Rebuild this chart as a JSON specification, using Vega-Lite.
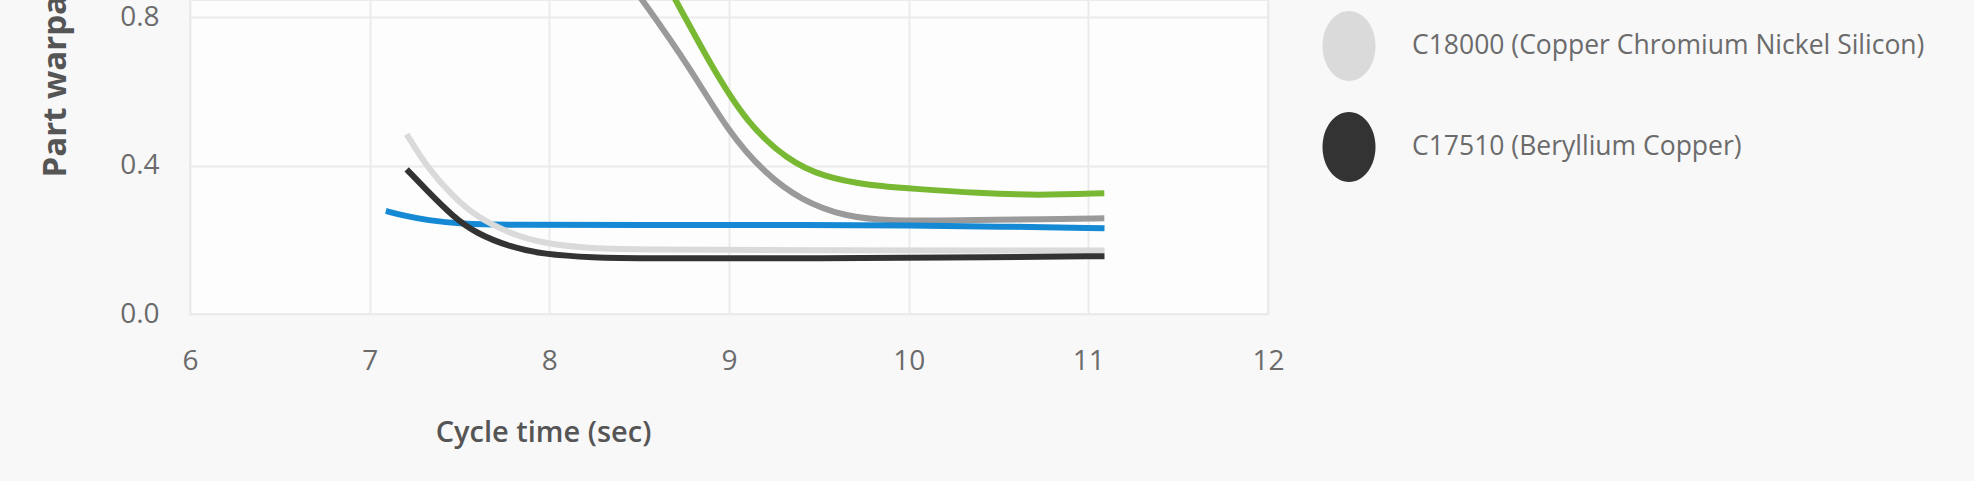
{
  "$schema": "https://vega.github.io/schema/vega-lite/v6.json",
  "width": 1078,
  "height": 314,
  "autosize": "none",
  "padding": {"left": 190, "top": 0, "right": 706, "bottom": 167},
  "background": "#f8f8f9",
  "config": {
    "view": {"fill": "#fdfdfd", "stroke": "#ebebeb", "strokeWidth": 2},
    "font": "Open Sans"
  },
  "data": {
    "values": [
      {"alloy": "H13 (Tool Steel)", "t": 8.5, "w": 1.02},
      {"alloy": "H13 (Tool Steel)", "t": 8.6, "w": 0.935},
      {"alloy": "H13 (Tool Steel)", "t": 8.704, "w": 0.847},
      {"alloy": "H13 (Tool Steel)", "t": 8.903, "w": 0.667},
      {"alloy": "H13 (Tool Steel)", "t": 9.101, "w": 0.514},
      {"alloy": "H13 (Tool Steel)", "t": 9.325, "w": 0.415},
      {"alloy": "H13 (Tool Steel)", "t": 9.524, "w": 0.37},
      {"alloy": "H13 (Tool Steel)", "t": 9.772, "w": 0.347},
      {"alloy": "H13 (Tool Steel)", "t": 10.021, "w": 0.338},
      {"alloy": "H13 (Tool Steel)", "t": 10.394, "w": 0.326},
      {"alloy": "H13 (Tool Steel)", "t": 10.716, "w": 0.32},
      {"alloy": "H13 (Tool Steel)", "t": 11.089, "w": 0.326},
      {"alloy": "P20 (Tool Steel)", "t": 8.3, "w": 0.99},
      {"alloy": "P20 (Tool Steel)", "t": 8.4, "w": 0.924},
      {"alloy": "P20 (Tool Steel)", "t": 8.518, "w": 0.847},
      {"alloy": "P20 (Tool Steel)", "t": 8.779, "w": 0.667},
      {"alloy": "P20 (Tool Steel)", "t": 9.002, "w": 0.487},
      {"alloy": "P20 (Tool Steel)", "t": 9.201, "w": 0.379},
      {"alloy": "P20 (Tool Steel)", "t": 9.4, "w": 0.307},
      {"alloy": "P20 (Tool Steel)", "t": 9.648, "w": 0.262},
      {"alloy": "P20 (Tool Steel)", "t": 9.896, "w": 0.251},
      {"alloy": "P20 (Tool Steel)", "t": 10.269, "w": 0.253},
      {"alloy": "P20 (Tool Steel)", "t": 10.766, "w": 0.256},
      {"alloy": "P20 (Tool Steel)", "t": 11.089, "w": 0.258},
      {"alloy": "Aluminum 7075", "t": 7.09, "w": 0.278},
      {"alloy": "Aluminum 7075", "t": 7.2, "w": 0.264},
      {"alloy": "Aluminum 7075", "t": 7.32, "w": 0.253},
      {"alloy": "Aluminum 7075", "t": 7.5, "w": 0.243},
      {"alloy": "Aluminum 7075", "t": 7.8, "w": 0.24},
      {"alloy": "Aluminum 7075", "t": 8.5, "w": 0.24},
      {"alloy": "Aluminum 7075", "t": 9.5, "w": 0.24},
      {"alloy": "Aluminum 7075", "t": 10.0, "w": 0.239},
      {"alloy": "Aluminum 7075", "t": 10.5, "w": 0.236},
      {"alloy": "Aluminum 7075", "t": 11.09, "w": 0.231},
      {"alloy": "C18000 (Copper Chromium Nickel Silicon)", "t": 7.206, "w": 0.485},
      {"alloy": "C18000 (Copper Chromium Nickel Silicon)", "t": 7.317, "w": 0.397},
      {"alloy": "C18000 (Copper Chromium Nickel Silicon)", "t": 7.465, "w": 0.316},
      {"alloy": "C18000 (Copper Chromium Nickel Silicon)", "t": 7.595, "w": 0.262},
      {"alloy": "C18000 (Copper Chromium Nickel Silicon)", "t": 7.781, "w": 0.217},
      {"alloy": "C18000 (Copper Chromium Nickel Silicon)", "t": 7.966, "w": 0.19},
      {"alloy": "C18000 (Copper Chromium Nickel Silicon)", "t": 8.244, "w": 0.176},
      {"alloy": "C18000 (Copper Chromium Nickel Silicon)", "t": 8.504, "w": 0.174},
      {"alloy": "C18000 (Copper Chromium Nickel Silicon)", "t": 9.5, "w": 0.172},
      {"alloy": "C18000 (Copper Chromium Nickel Silicon)", "t": 10.5, "w": 0.171},
      {"alloy": "C18000 (Copper Chromium Nickel Silicon)", "t": 11.09, "w": 0.171},
      {"alloy": "C17510  (Beryllium Copper)", "t": 7.206, "w": 0.39},
      {"alloy": "C17510  (Beryllium Copper)", "t": 7.317, "w": 0.334},
      {"alloy": "C17510  (Beryllium Copper)", "t": 7.465, "w": 0.262},
      {"alloy": "C17510  (Beryllium Copper)", "t": 7.595, "w": 0.217},
      {"alloy": "C17510  (Beryllium Copper)", "t": 7.781, "w": 0.181},
      {"alloy": "C17510  (Beryllium Copper)", "t": 7.966, "w": 0.161},
      {"alloy": "C17510  (Beryllium Copper)", "t": 8.244, "w": 0.152},
      {"alloy": "C17510  (Beryllium Copper)", "t": 8.504, "w": 0.15},
      {"alloy": "C17510  (Beryllium Copper)", "t": 9.5, "w": 0.15},
      {"alloy": "C17510  (Beryllium Copper)", "t": 10.5, "w": 0.153},
      {"alloy": "C17510  (Beryllium Copper)", "t": 11.09, "w": 0.156}
    ]
  },
  "mark": {"type": "line", "interpolate": "basis", "strokeWidth": 6, "clip": true},
  "encoding": {
    "x": {
      "field": "t",
      "type": "quantitative",
      "scale": {"domain": [6, 12], "nice": false, "zero": false},
      "axis": {
        "values": [6, 7, 8, 9, 10, 11, 12],
        "title": "Cycle time (sec)",
        "titleFontSize": 29,
        "titleFontWeight": 600,
        "titleColor": "#555555",
        "titleX": 353,
        "titleY": 118,
        "titleBaseline": "middle",
        "titleAnchor": null,
        "labelFontSize": 28,
        "labelColor": "#6b6b6b",
        "labelPadding": 33,
        "labelFlush": false,
        "domain": false,
        "ticks": false,
        "gridColor": "#ebebeb",
        "gridWidth": 2
      }
    },
    "y": {
      "field": "w",
      "type": "quantitative",
      "scale": {"domain": [0, 0.847], "nice": false},
      "axis": {
        "values": [0, 0.4, 0.8],
        "format": ".1f",
        "title": "Part warpage (mm)",
        "titleFontSize": 33,
        "titleFontWeight": "bold",
        "titleColor": "#555555",
        "titleAngle": 270,
        "titleAlign": "left",
        "titleBaseline": "middle",
        "titleX": -135,
        "titleY": 177,
        "labelFontSize": 28,
        "labelColor": "#6b6b6b",
        "labelPadding": 31,
        "labelBaseline": "middle",
        "labelFlush": false,
        "domain": false,
        "ticks": false,
        "gridColor": "#ebebeb",
        "gridWidth": 2
      }
    },
    "color": {
      "field": "alloy",
      "type": "nominal",
      "sort": null,
      "scale": {
        "domain": ["H13 (Tool Steel)", "P20 (Tool Steel)", "Aluminum 7075", "C18000 (Copper Chromium Nickel Silicon)", "C17510  (Beryllium Copper)"],
        "range": ["#78b833", "#9a9a9a", "#1589d4", "#dadada", "#333333"]
      },
      "legend": {
        "values": ["C18000 (Copper Chromium Nickel Silicon)", "C17510  (Beryllium Copper)"],
        "orient": "none",
        "legendX": 1124,
        "legendY": 11,
        "title": null,
        "padding": 0,
        "symbolType": "M-0.757,0A0.757,1 0 1,1 0.757,0A0.757,1 0 1,1 -0.757,0Z",
        "symbolSize": 4900,
        "symbolStrokeWidth": 0,
        "labelFontSize": 26.5,
        "labelColor": "#6b6b6b",
        "labelOffset": 28,
        "labelLimit": 700,
        "rowPadding": 31,
        "encode": {
          "symbols": {"update": {"fill": {"scale": "color", "field": "value"}, "stroke": {"value": "transparent"}}}
        }
      }
    }
  }
}
